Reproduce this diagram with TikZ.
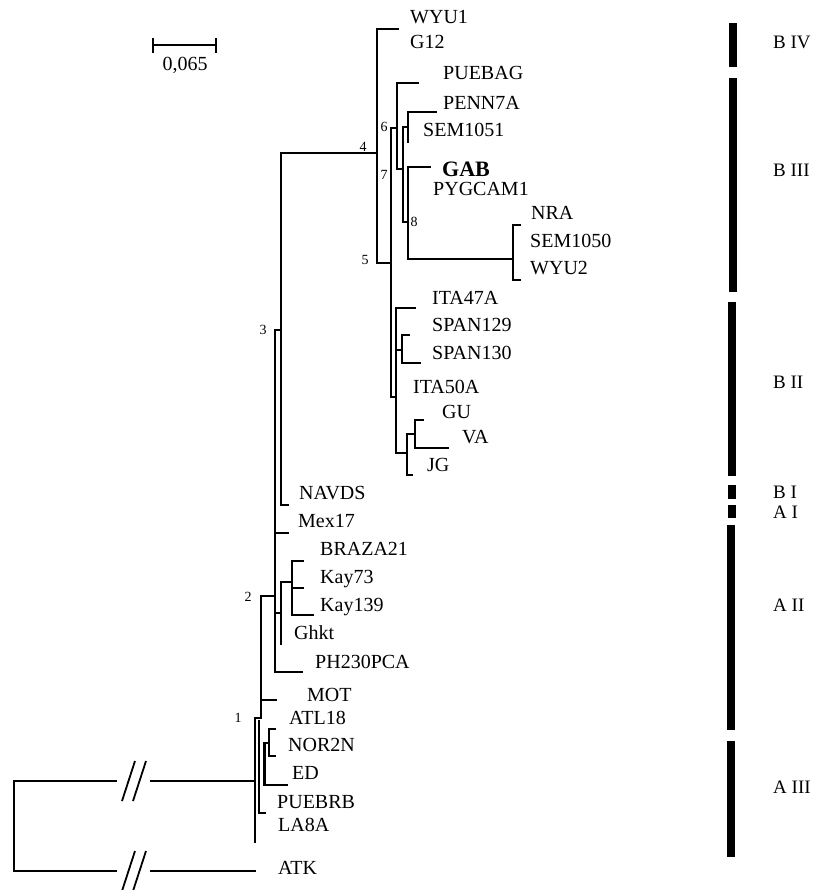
\documentclass[tikz,border=0pt]{standalone}
\usepackage{fontspec}
\setmainfont{Liberation Serif}
\begin{document}
\begin{tikzpicture}[x=1pt,y=-1pt,
  br/.style={line width=1.8pt,line cap=rect},
  thk/.style={line width=3pt},
  tx/.style={anchor=west,inner sep=0pt,text height=13.5pt,text depth=0pt,font=\fontsize{20}{24}\selectfont},
  nl/.style={inner sep=0pt,font=\fontsize{14}{16}\selectfont},
  grp/.style={anchor=west,inner sep=0pt,text height=13.5pt,text depth=0pt,font=\fontsize{19}{22}\selectfont},
  bar/.style={fill=black,draw=none}]
\useasboundingbox (0,0) rectangle (814,890);
% scale bar
\draw[br,line cap=butt] (153,45) -- (216,45);
\draw[br,line cap=butt] (153,38) -- (153,53);
\draw[br,line cap=butt] (216,38) -- (216,53);
\node[inner sep=0pt,font=\fontsize{20}{24}\selectfont] (scl) at (185,65) {0,065};
% outgroup and root
\draw[br] (116,781) -- (14,781) -- (14,871) -- (116,871);
\draw[br] (151,781) -- (255,781);
\draw[br] (151,871) -- (255,871);
\draw[line width=1.8pt] (122,801) -- (135,761) (133,801) -- (146,761);
\draw[line width=1.8pt] (122,891) -- (135,851) (133,891) -- (146,851);
% node 1
\draw[br] (255,842) -- (255,718) -- (261,718);
\node[nl] (n1) at (238,718) {1};
\draw[br] (261,718) -- (261,596);
\draw[br] (261,700) -- (276,700);
\draw[br] (259,721) -- (259,813) -- (265,813);
\draw[thk] (264,743) -- (264,785);
\draw[br] (264,785) -- (287,785);
\draw[br] (264,743) -- (269,743);
\draw[br] (275,729) -- (269,729) -- (269,756) -- (275,756);
% node 2
\draw[br] (261,596) -- (275,596);
\node[nl] (n2) at (248,597) {2};
\draw[br] (275,330) -- (275,672) -- (302,672);
\draw[br] (275,533) -- (288,533);
\draw[br] (275,613) -- (281,613);
\draw[br] (281,582) -- (281,644);
\draw[br] (281,582) -- (292,582);
\draw[br] (303,561) -- (292,561) -- (292,615) -- (313,615);
\draw[br] (292,588) -- (303,588);
% node 3
\draw[br] (275,330) -- (281,330);
\node[nl] (n3) at (263,330) {3};
\draw[br] (377,153) -- (281,153) -- (281,505) -- (288,505);
\node[nl] (n4) at (363,147) {4};
% node 4
\draw[br] (398,29) -- (377,29) -- (377,263) -- (391,263);
\node[nl] (n5) at (365,260) {5};
\draw[br] (391,128) -- (391,397) -- (396,397);
\draw[br] (391,128) -- (397,128);
\node[nl] (n6) at (384,127) {6};
\draw[br] (418,83) -- (397,83) -- (397,169) -- (403,169);
\node[nl] (n7) at (384,175) {7};
\draw[br] (408,127) -- (403,127) -- (403,222) -- (408,222);
\draw[br] (436,112) -- (408,112) -- (408,142);
\node[nl] (n8) at (414,222) {8};
\draw[br] (430,167) -- (408,167) -- (408,259) -- (513,259);
\draw[br] (520,225) -- (513,225) -- (513,280) -- (520,280);
% clade B II
\draw[br] (415,308) -- (396,308) -- (396,453) -- (407,453);
\draw[br] (396,350) -- (402,350);
\draw[br] (409,335) -- (402,335) -- (402,363) -- (420,363);
\draw[br] (415,434) -- (407,434) -- (407,475) -- (412,475);
\draw[br] (423,420) -- (415,420) -- (415,448) -- (448,448);
% taxa
\node[tx] (t1) at (410,17) {WYU1};
\node[tx] (t2) at (410,42) {G12};
\node[tx] (t3) at (443,73) {PUEBAG};
\node[tx] (t4) at (443,103) {PENN7A};
\node[tx] (t5) at (423,130) {SEM1051};
\node[tx,text height=15pt,font=\fontsize{22}{26}\selectfont\bfseries] (t6) at (442,169) {GAB};
\node[tx] (t7) at (433,189) {PYGCAM1};
\node[tx] (t8) at (531,213) {NRA};
\node[tx] (t9) at (530,241) {SEM1050};
\node[tx] (t10) at (530,268) {WYU2};
\node[tx] (t11) at (432,298) {ITA47A};
\node[tx] (t12) at (432,325) {SPAN129};
\node[tx] (t13) at (432,353) {SPAN130};
\node[tx] (t14) at (413,387) {ITA50A};
\node[tx] (t15) at (442,412) {GU};
\node[tx] (t16) at (462,437) {VA};
\node[tx] (t17) at (427,465) {JG};
\node[tx] (t18) at (299,493) {NAVDS};
\node[tx] (t19) at (298,521) {Mex17};
\node[tx] (t20) at (320,549) {BRAZA21};
\node[tx] (t21) at (320,577) {Kay73};
\node[tx] (t22) at (320,605) {Kay139};
\node[tx] (t23) at (294,633) {Ghkt};
\node[tx] (t24) at (315,662) {PH230PCA};
\node[tx] (t25) at (307,695) {MOT};
\node[tx] (t26) at (289,718) {ATL18};
\node[tx] (t27) at (288,745) {NOR2N};
\node[tx] (t28) at (292,773) {ED};
\node[tx] (t29) at (277,802) {PUEBRB};
\node[tx] (t30) at (278,825) {LA8A};
\node[tx] (t31) at (278,868) {ATK};
% group bars
\fill[bar] (729,23) rectangle (737,67);
\fill[bar] (729,78) rectangle (737,292);
\fill[bar] (728,302) rectangle (736,476);
\fill[bar] (728,485) rectangle (736,499);
\fill[bar] (728,505) rectangle (736,518);
\fill[bar] (727,525) rectangle (735,730);
\fill[bar] (727,741) rectangle (735,857);
\node[grp] (g1) at (773,42) {B IV};
\node[grp] (g2) at (773,170) {B III};
\node[grp] (g3) at (773,382) {B II};
\node[grp] (g4) at (773,492) {B I};
\node[grp] (g5) at (773,512) {A I};
\node[grp] (g6) at (773,605) {A II};
\node[grp] (g7) at (773,787) {A III};
\end{tikzpicture}
\end{document}
